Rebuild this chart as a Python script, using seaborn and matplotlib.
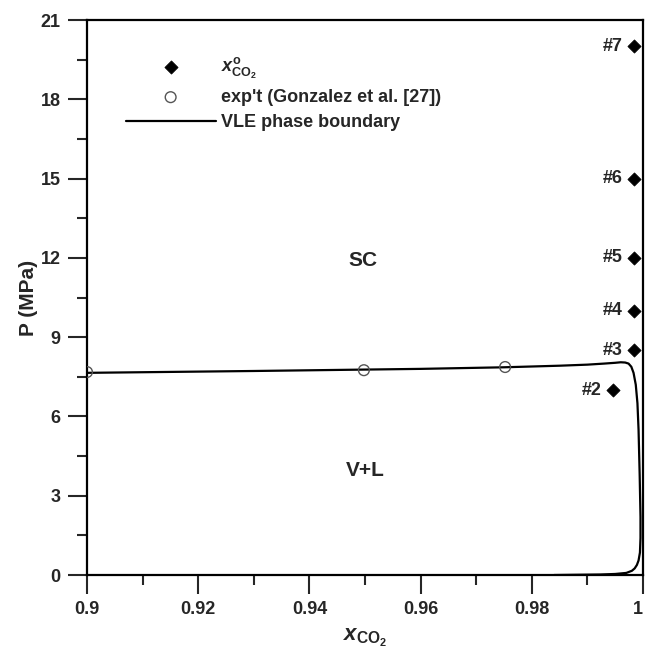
import numpy as np
import pandas as pd
import seaborn as sns
import matplotlib.pyplot as plt
from matplotlib.ticker import MultipleLocator

# VLE phase boundary (upper branch, right vertical, then lower branch back)
vle_x = [0.900, 0.930, 0.960, 0.975, 0.985, 0.990, 0.993, 0.995, 0.996, 0.9968,
         0.9974, 0.9979, 0.9983, 0.9987, 0.9990, 0.9992, 0.9994, 0.99955,
         0.99955, 0.99945, 0.9992, 0.9989, 0.9985, 0.998, 0.997, 0.995, 0.9923, 0.988, 0.984]
vle_p = [7.65, 7.72, 7.80, 7.86, 7.92, 7.96, 8.00, 8.03, 8.05, 8.04,
         8.00, 7.88, 7.65, 7.20, 6.50, 5.50, 3.80, 2.20,
         1.40, 0.85, 0.55, 0.38, 0.25, 0.16, 0.08, 0.04, 0.02, 0.01, 0.0]

# experimental data (Gonzalez et al.)
exp_x = [0.900, 0.9498, 0.9752]
exp_p = [7.68, 7.75, 7.87]

# overall compositions #2..#7
case_labels = ["#2", "#3", "#4", "#5", "#6", "#7"]
case_x = [0.9946, 0.9984, 0.9984, 0.9984, 0.9984, 0.9984]
case_p = [7.0, 8.5, 10.0, 12.0, 15.0, 20.0]

sns.set_style("white")
plt.rcParams['font.family'] = ['Liberation Sans', 'DejaVu Sans']
plt.rcParams['font.weight'] = 'bold'
plt.rcParams['mathtext.fontset'] = 'custom'
plt.rcParams['mathtext.rm'] = 'Liberation Sans:bold'
plt.rcParams['mathtext.it'] = 'Liberation Sans:italic:bold'
plt.rcParams['mathtext.bf'] = 'Liberation Sans:bold'

fig = plt.figure(figsize=(6.45, 6.58), dpi=100)
ax = fig.add_axes([0.1349, 0.1261, 0.8620, 0.8435])

cases = pd.DataFrame({"x": case_x, "p": case_p, "label": case_labels})
exp = pd.DataFrame({"x": exp_x, "p": exp_p})

sns.scatterplot(data=cases, x="x", y="p", marker="D", s=45, color="black",
                edgecolor="black", ax=ax, zorder=4,
                label=r"$x^{\mathrm{o}}_{\mathrm{CO_2}}$")
sns.scatterplot(data=exp, x="x", y="p", marker="o", s=60, facecolor="none",
                edgecolor="#555555", linewidth=1.0, ax=ax, zorder=5,
                label="exp't (Gonzalez et al. [27])")
ax.plot(vle_x, vle_p, color="black", lw=1.6, zorder=3, label="VLE phase boundary",
        solid_joinstyle="round")

for lab, xx, pp in zip(case_labels, case_x, case_p):
    ax.annotate(lab, (xx, pp), xytext=(-8, 0), textcoords="offset points",
                ha="right", va="center", fontsize=13, fontweight="bold")

ax.text(0.9496, 11.9, "SC", fontsize=15, fontweight="bold", ha="center", va="center")
ax.text(0.9500, 3.95, "V+L", fontsize=15, fontweight="bold", ha="center", va="center")

ax.set_xlim(0.9, 1.0)
ax.set_ylim(0, 21)
ax.xaxis.set_minor_locator(MultipleLocator(0.01))
ax.yaxis.set_major_locator(MultipleLocator(3))
ax.yaxis.set_minor_locator(MultipleLocator(1.5))
ax.set_xticks([0.9, 0.92, 0.94, 0.96, 0.98, 1.0])
ax.set_xticklabels(["0.9", "0.92", "0.94", "0.96", "0.98", "1"])
ax.tick_params(which="major", direction="out", length=14, width=1.5, labelsize=13,
               bottom=True, left=True, pad=5)
ax.tick_params(which="minor", direction="out", length=7, width=1.5,
               bottom=True, left=True)
for t in ax.get_xticklabels() + ax.get_yticklabels():
    t.set_fontweight("bold")
ax.get_xticklabels()[-1].set_horizontalalignment("right")
for sp in ax.spines.values():
    sp.set_linewidth(1.6)
    sp.set_color("black")

ax.set_xlabel(r"$x_{\mathrm{CO_2}}$", fontsize=16, labelpad=6)
ax.set_ylabel("P (MPa)", fontsize=15, fontweight="bold", labelpad=2)

ax.legend(loc="upper left", bbox_to_anchor=(0.04, 0.965), frameon=False,
          handlelength=5.0, handletextpad=0.3, labelspacing=0.45,
          prop={"weight": "bold", "size": 13})

fig.savefig("out.png", dpi=100)
